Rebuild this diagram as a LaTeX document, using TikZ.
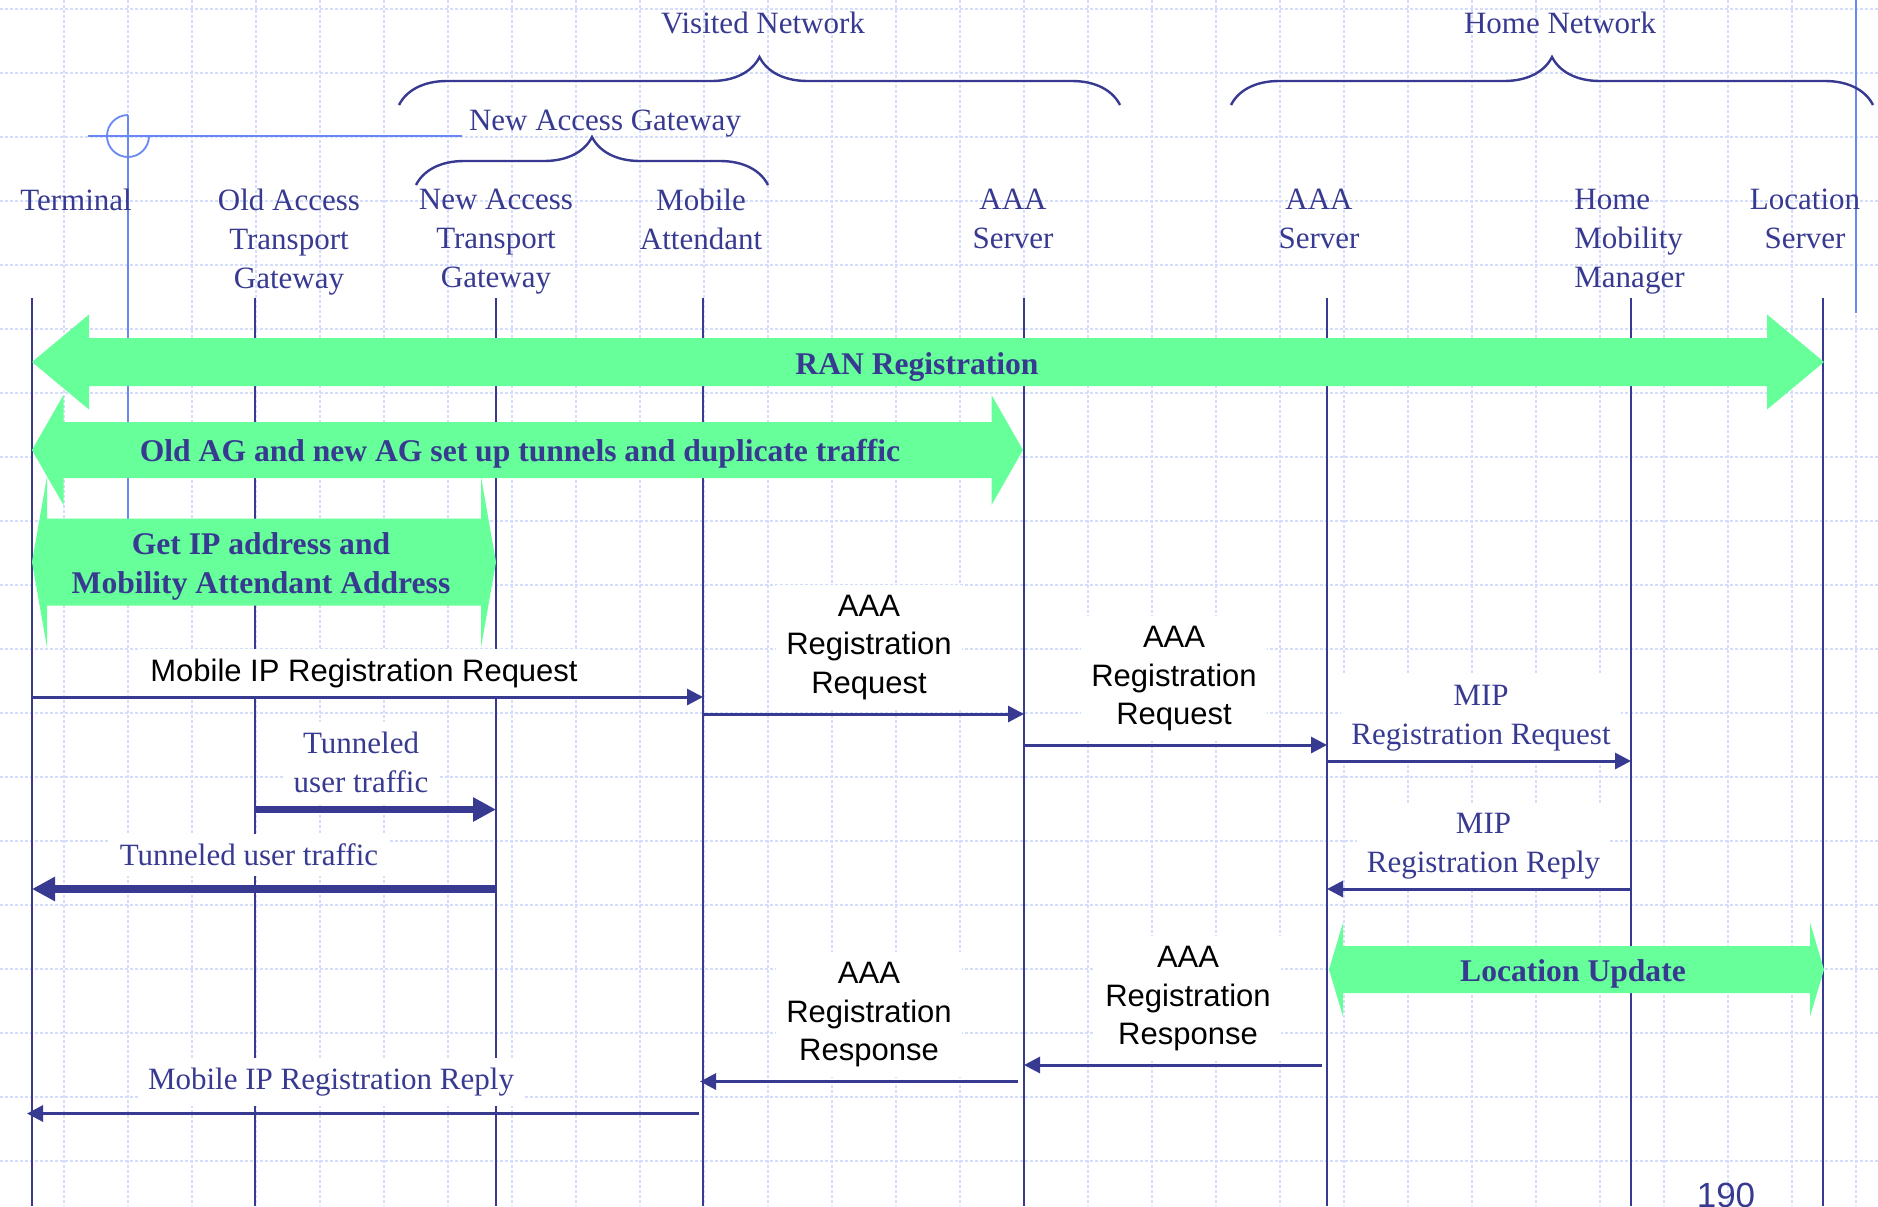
\documentclass[tikz,border=0pt]{standalone}
\usepackage{fontspec}
\setmainfont{Liberation Serif}
\newfontfamily\arialfont{Liberation Sans}
\usetikzlibrary{arrows.meta, decorations.pathreplacing}
\definecolor{navy}{RGB}{56,58,145}
\definecolor{rangreen}{RGB}{102,255,153}
\definecolor{gridblue}{RGB}{212,222,252}
\definecolor{markblue}{RGB}{105,135,245}

\begin{document}
\begin{tikzpicture}[x=0.5pt, y=-0.5pt, >={Triangle[length=8pt,width=8pt]},
  gridline/.style={gridblue, line width=0.8pt, dash pattern=on 1.5pt off 1pt},
  life/.style={navy, line width=1pt},
  msg/.style={navy, line width=1.5pt, ->},
  fat/.style={navy, line width=3.9pt, -{Triangle[length=11.5pt,width=11.5pt]}},
  brc/.style={navy, line width=1.2pt, decorate, decoration={brace, amplitude=24pt}},
  hdr/.style={navy, font=\fontsize{15.5}{19.5}\selectfont, align=center, inner sep=0pt},
  tlbl/.style={hdr, fill=white, inner sep=5pt},
  albl/.style={black, font=\arialfont\fontsize{15.5}{19.2}\selectfont, align=center, fill=white, inner sep=5pt},
  blbl/.style={navy, font=\bfseries\fontsize{15.8}{19.7}\selectfont, align=center, inner sep=0pt}]
\useasboundingbox (0,0) rectangle (1878,1206);
\clip (0,0) rectangle (1878,1206);
\fill[white] (0,0) rectangle (1878,1206);
% background grid
\foreach \gx in {64,128,...,1856} \draw[gridline] (\gx,0) -- (\gx,1206);
\foreach \gy in {9,73,...,1161} \draw[gridline] (0,\gy) -- (1878,\gy);
% template marks
\draw[markblue, line width=0.9pt] (88,136) -- (462,136);
\draw[markblue, line width=0.9pt] (128,115) -- (128,560);
\draw[markblue, line width=0.9pt] (128,115) arc[start angle=270, end angle=0, radius=21];
\draw[markblue, line width=0.9pt] (1856,0) -- (1856,313);
% networks
\draw[brc] (399,105) -- (1120,105);
\draw[brc] (1231,105) -- (1873,105);
\draw[brc] (416,185) -- (768,185);
\node[hdr, anchor=base] (visited) at (763,33) {Visited Network};
\node[hdr, anchor=base] (home) at (1560,33) {Home Network};
\node[hdr, anchor=base] (newagw) at (605,130) {New Access Gateway};
% entities
\node[hdr, anchor=north] (hterm) at (76,188.5) {Terminal};
\node[hdr, anchor=north] (hoag) at (289,188.5) {Old Access\\Transport\\Gateway};
\node[hdr, anchor=north] (hnag) at (496,188.5) {New Access\\Transport\\Gateway};
\node[hdr, anchor=north] (hma) at (701,188.5) {Mobile\\Attendant};
\node[hdr, anchor=north] (haaav) at (1013,188.5) {AAA\\Server};
\node[hdr, anchor=north] (haaah) at (1319,188.5) {AAA\\Server};
\node[hdr, anchor=north west, align=left] (hhmm) at (1574,188.5) {Home\\Mobility\\Manager};
\node[hdr, anchor=north] (hls) at (1805,188.5) {Location\\Server};
% lifelines
\foreach \n/\x in {term/32, oag/255, nag/496, ma/703, aaav/1024, aaah/1327, hmm/1631, ls/1823}{
  \coordinate (\n) at (\x,298);
  \draw[life] (\n) -- (\x,1206);
}
% big shaded arrows
\foreach \xa/\xb/\yc/\sh/\hh/\hl in {32/1824/362/24/47.5/57, 32/1023/450/28/55/31.5, 32/496/562/43.5/85.5/15, 1329/1824/969.5/23.5/47/14}
  \fill[rangreen] (\xa,\yc) -- (\xa+\hl,\yc-\hh) -- (\xa+\hl,\yc-\sh) -- (\xb-\hl,\yc-\sh)
    -- (\xb-\hl,\yc-\hh) -- (\xb,\yc) -- (\xb-\hl,\yc+\hh) -- (\xb-\hl,\yc+\sh)
    -- (\xa+\hl,\yc+\sh) -- (\xa+\hl,\yc+\hh) -- cycle;
\node[blbl, anchor=base] (ran) at (917,374) {RAN Registration};
\node[blbl, anchor=base] (dup) at (520,461.7) {Old AG and new AG set up tunnels and duplicate traffic};
\node[blbl, anchor=north] (getip) at (261,532) {Get IP address and\\Mobility Attendant Address};
\node[blbl, anchor=base] (locupd) at (1573,981.7) {Location Update};
% requests
\node[albl, anchor=base] (mipreq) at (364,681) {Mobile IP Registration Request};
\draw[msg] (term |- 0,697) -- (ma |- 0,697);
\node[albl, anchor=north] (aaareq1) at (869,584.5) {AAA\\Registration\\Request};
\draw[msg] (ma |- 0,714) -- (aaav |- 0,714);
\node[albl, anchor=north] (aaareq2) at (1174,616) {AAA\\Registration\\Request};
\draw[msg] (aaav |- 0,745) -- (aaah |- 0,745);
\node[tlbl, anchor=north] (mipreq2) at (1481,674.5) {MIP\\Registration Request};
\draw[msg] (aaah |- 0,761) -- (hmm |- 0,761);
% user traffic
\node[tlbl, anchor=north] (tun1) at (361,722) {Tunneled\\user traffic};
\draw[fat] (oag |- 0,809.5) -- (nag |- 0,809.5);
\node[tlbl, anchor=base] (tun2) at (249,865.5) {Tunneled user traffic};
\draw[fat] (nag |- 0,889) -- (term |- 0,889);
% replies
\node[tlbl, anchor=north] (miprep2) at (1483.5,802.8) {MIP\\Registration Reply};
\draw[msg] (hmm |- 0,889) -- (aaah |- 0,889);
\node[albl, anchor=north] (aaares1) at (1188,936) {AAA\\Registration\\Response};
\draw[msg, shorten <=2.5pt] (aaah |- 0,1065) -- (aaav |- 0,1065);
\node[albl, anchor=north] (aaares2) at (869,952) {AAA\\Registration\\Response};
\draw[msg, shorten <=3pt, shorten >=-1.5pt] (aaav |- 0,1081.5) -- (ma |- 0,1081.5);
\node[tlbl, anchor=base] (miprep) at (331,1089) {Mobile IP Registration Reply};
\draw[msg, shorten <=2pt, shorten >=-2.5pt] (ma |- 0,1113.5) -- (term |- 0,1113.5);
\node[navy, font=\arialfont\fontsize{17.5}{21}\selectfont, anchor=base] (page) at (1726,1207) {190};
\end{tikzpicture}
\end{document}
